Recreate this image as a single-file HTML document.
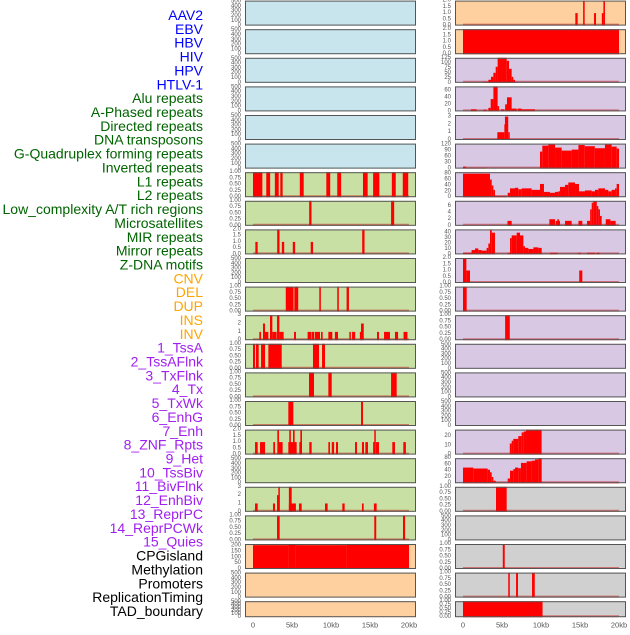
<!DOCTYPE html>
<html><head><meta charset="utf-8">
<style>
html,body{margin:0;padding:0;background:#fff;}
body{width:630px;height:630px;overflow:hidden;font-family:"Liberation Sans",sans-serif;}
</style></head>
<body>
<svg id="chart" width="630" height="630" viewBox="0 0 630 630" xmlns="http://www.w3.org/2000/svg">
<g id="labels"></g>
<g id="panels"></g>
<g id="xaxes"></g>
</svg>
<script>
// ---- track labels ----
const labelNames = ["AAV2","EBV","HBV","HIV","HPV","HTLV-1","Alu repeats","A-Phased repeats","Directed repeats","DNA transposons","G-Quadruplex forming repeats","Inverted repeats","L1 repeats","L2 repeats","Low_complexity A/T rich regions","Microsatellites","MIR repeats","Mirror repeats","Z-DNA motifs","CNV","DEL","DUP","INS","INV","1_TssA","2_TssAFlnk","3_TxFlnk","4_Tx","5_TxWk","6_EnhG","7_Enh","8_ZNF_Rpts","9_Het","10_TssBiv","11_BivFlnk","12_EnhBiv","13_ReprPC","14_ReprPCWk","15_Quies","CPGisland","Methylation","Promoters","ReplicationTiming","TAD_boundary"];
const labelColors = ["#0000ff","#006400","#ffa500","#a020f0","#000000"];
const labelGroups = [6,13,5,15,5];

// ---- x axis ----
const xTickKb = [0,5,10,15,20];
const xTickLabels = ["0","5kb","10kb","15kb","20kb"];

// ---- tick sets ----
const T01 = [0,0.25,0.5,0.75,1];
const T02 = [0,0.5,1,1.5,2];
const T500 = [0,100,200,300,400,500];
const T03 = [0,1,2,3];

// ---- left column data [startKb,endKb,value] ----
const L_L1 = [[0,1.2,1],[1.7,2.2,1],[2.8,3.3,1],[3.5,3.8,1],[6.0,6.5,1],[9.4,9.9,1],[10.8,11.3,1],[14.1,14.7,1],[15.4,16.2,1],[17.8,18.3,1],[19.2,19.9,1]];
const L_L2 = [[7.2,7.5,1],[17.7,18.1,1]];
const L_LowC = [[0.3,0.6,1],[3.1,3.4,2],[3.7,4.0,1],[5.1,5.4,1],[7.4,7.7,1],[14.0,14.3,2]];
const L_MIR = [[4.2,5.2,1],[5.3,5.8,1],[8.5,8.7,1],[10.8,11.0,1],[12.0,12.3,1]];
const L_Mirror = [[0.81,1.03,1],[1.28,1.54,2],[1.54,1.97,1],[2.18,2.48,3],[2.48,3.03,1],[3.08,3.38,3],[3.38,3.93,1],[5.26,5.51,1],[7.0,7.5,1],[7.56,7.86,1],[7.95,8.59,1],[8.72,8.93,1],[9.66,10.17,1],[10.5,10.9,1],[12.35,12.5,1],[12.7,13.1,1],[13.7,13.85,1],[13.85,14.2,2],[15.9,16.15,1],[16.8,17.56,1],[18.2,18.6,1],[19.3,19.8,1]];
const L_DEL = [[0,0.26,1],[0.38,0.73,1],[1.03,1.54,1],[1.97,3.68,1],[7.69,8.46,1],[8.85,9.23,1]];
const L_DUP = [[7.18,7.82,1],[9.66,10.09,1],[17.7,18.42,1]];
const L_INS = [[4.53,5.17,1],[13.85,14.1,1]];
const L_INV = [[0.26,0.6,1],[0.9,1.54,1],[2.6,2.82,1],[3.12,3.33,2],[3.33,3.8,1],[4.53,5.6,1],[4.65,4.85,2],[5.13,5.34,2],[5.94,6.28,1],[6.07,6.28,2],[7.22,7.52,1],[9.66,9.87,1],[10.1,10.4,1],[10.64,10.9,1],[13.08,13.33,1],[13.97,14.23,1],[14.4,14.74,1],[15.4,15.55,1],[15.55,15.73,2],[15.77,16.15,1],[17.86,18.2,1],[19.27,19.6,1]];
const L_TxFlnk = [[0.26,0.6,1],[2.56,2.82,1],[3.08,3.25,2],[3.25,3.42,3],[4.6,5.5,1],[4.6,4.96,3],[5.9,6.24,1],[9.23,9.57,1],[11.45,11.75,1],[13.97,14.19,1],[15.5,15.85,1]];
const L_Tx = [[3.08,3.42,1],[15.55,15.8,1],[19.23,19.5,1]];
const L_TxWk = [[0,4.5,205],[4.5,5.5,212],[5.5,12,205],[12,20,208]];

// ---- right column data ----
const R_AAV2 = [[14.4,14.7,1],[15.4,15.6,2],[16.8,17.05,1],[17.8,18.0,1],[18.0,18.2,2]];
const R_EBV = [[0,20,2]];
const R_HIV = [[2.6,3.25,5],[3.25,3.59,15],[3.59,3.89,30],[3.89,4.19,50],[4.19,4.44,80],[4.44,5.6,125],[5.6,5.9,110],[5.9,6.24,70],[6.24,6.45,30],[6.45,6.67,15],[6.67,6.88,5]];
const R_HPV = [[1.03,1.75,6],[2.6,3.03,5],[3.25,3.55,10],[3.55,3.9,35],[3.9,4.44,71],[4.44,4.6,15],[4.87,5.3,6],[5.4,5.64,20],[5.64,6.24,40],[6.24,6.88,8],[7.0,7.5,8],[7.5,9.23,6]];
const R_HTLV = [[4.4,5.3,1],[5.3,5.5,2],[5.38,5.8,3],[5.8,5.98,1]];
const R_Alu = [[0,0.4,10],[0.4,3.03,5],[9.87,10.17,85],[10.17,10.94,115],[10.94,11.8,120],[11.8,12.65,105],[12.65,13.93,90],[13.93,14.8,95],[14.8,15.6,118],[15.6,16.9,112],[16.9,18.2,102],[18.2,19.06,120],[19.06,19.7,110],[19.7,20,100]];
const R_Aph = [[0,3.46,80],[3.46,3.68,60],[3.68,3.89,40],[3.89,4.1,25],[4.1,5.6,5],[5.73,6.03,15],[6.03,6.67,30],[6.67,7.09,32],[7.09,7.52,27],[7.52,8.8,30],[8.8,9.87,25],[9.87,10.38,45],[10.38,11.15,18],[11.15,11.8,15],[11.8,12.22,18],[12.22,12.44,20],[12.44,13.08,35],[13.08,13.5,42],[13.5,14.36,50],[14.36,14.87,45],[14.87,15.64,20],[15.64,16.5,23],[16.5,16.92,20],[16.92,17.35,25],[17.35,18.2,30],[18.2,18.63,25],[18.63,19.06,20],[19.06,19.49,25],[19.49,19.7,30],[19.7,20,45]];
const R_Dir = [[5.7,6.24,1.5],[11.07,11.8,2],[11.88,12.44,1.5],[12.1,12.3,2],[13.08,13.93,1.5],[14.8,15.3,1.5],[15.9,16.3,1.5],[16.3,16.5,5],[16.5,16.7,7],[16.7,17.15,7.5],[17.15,17.35,6],[17.35,17.56,5],[17.56,17.78,3],[18.3,18.9,2],[18.9,19.57,1.5]];
const R_DNAt = [[0,1.1,3],[1.1,1.54,8],[1.54,1.97,11],[1.97,2.4,8],[2.4,3.03,7],[3.03,3.25,12],[3.25,3.46,20],[3.46,3.68,45],[3.68,4.1,40],[5.73,6.03,3],[6.03,6.24,30],[6.24,6.88,35],[6.88,7.31,40],[7.31,7.74,35],[7.74,7.95,15],[7.95,8.38,12],[8.38,9.02,10],[9.02,9.66,13],[9.66,10.09,12],[11.15,12.14,3],[14.8,15.1,3],[15.9,16.92,3],[17.1,17.52,3]];
const R_GQ = [[0,0.43,2],[0.43,0.9,1],[14.9,15.3,1]];
const R_Inv = [[0,0.47,1]];
const R_L1 = [[5.4,6.0,1]];
const R_MIR = [[6.0,6.24,12],[6.24,6.45,15],[6.45,7.09,17],[7.09,7.52,20],[7.52,7.78,24],[7.78,8.08,25],[8.08,10.08,27]];
const R_Mirror = [[0,1.32,50],[1.32,3.16,47],[3.16,3.46,43],[3.46,3.68,35],[3.68,3.89,20],[3.89,4.19,8],[4.19,5.73,1],[5.73,6.03,15],[6.03,6.45,40],[6.45,6.67,45],[6.67,7.09,50],[7.09,7.43,48],[7.43,8.16,65],[8.16,8.8,70],[8.8,9.23,72],[9.23,9.66,76],[9.66,10.09,80],[10.09,20,2]];
const R_ZDNA = [[4.23,5.6,1]];
const R_CPG = [[5.1,5.35,1]];
const R_Meth = [[5.8,6.0,1],[6.8,7.05,1],[8.85,9.2,1]];
const R_Prom = [[0,10.2,1]];

// ---- colours ----
const BLUE="#c8e4ec", ORANGE="#fed0a0", PURPLE="#d8c8e4", GREEN="#c8e0a4", GREY="#d0d0d0";

const leftPanels = [
 [BLUE,520,T500,[],0],[BLUE,520,T500,[],0],[BLUE,520,T500,[],0],[BLUE,520,T500,[],0],[BLUE,520,T500,[],0],[BLUE,520,T500,[],0],
 [GREEN,1,T01,L_L1,2],[GREEN,1,T01,L_L2,2],[GREEN,2,T02,L_LowC,1],[GREEN,520,T500,[],0],[GREEN,1,T01,L_MIR,2],[GREEN,3,T03,L_Mirror,0],
 [GREEN,1,T01,L_DEL,2],[GREEN,1,T01,L_DUP,2],[GREEN,1,T01,L_INS,2],[GREEN,2,T02,L_INV,1],[GREEN,520,T500,[],0],[GREEN,3,T03,L_TxFlnk,0],[GREEN,1,T01,L_Tx,2],
 [ORANGE,215,[0,50,100,150,200],L_TxWk,0],[ORANGE,520,T500,[],0],[ORANGE,520,T500,[],0]
];
const rightPanels = [
 [ORANGE,2,T02,R_AAV2,1],[ORANGE,2,T02,R_EBV,1],[PURPLE,125,[0,25,50,75,100,125],R_HIV,0],[PURPLE,71,[0,20,40,60],R_HPV,0],[PURPLE,3.2,T03,R_HTLV,0],
 [PURPLE,125,[0,30,60,90,120],R_Alu,0],[PURPLE,85,[0,20,40,60,80],R_Aph,0],[PURPLE,7.6,[0,2,4,6],R_Dir,0],[PURPLE,46,[0,10,20,30,40],R_DNAt,0],
 [PURPLE,2,T02,R_GQ,1],[PURPLE,1,T01,R_Inv,2],[PURPLE,1,T01,R_L1,2],[PURPLE,520,T500,[],0],[PURPLE,520,T500,[],0],[PURPLE,520,T500,[],0],
 [PURPLE,27,[0,10,20],R_MIR,0],[PURPLE,80,[0,20,40,60,80],R_Mirror,0],[GREY,1,T01,R_ZDNA,2],[GREY,520,T500,[],0],
 [GREY,1,T01,R_CPG,2],[GREY,1,T01,R_Meth,2],[GREY,1,T01,R_Prom,2]
];

const NS="http://www.w3.org/2000/svg";
function mk(tag, attrs, parent){const e=document.createElementNS(NS,tag);for(const k in attrs)e.setAttribute(k,attrs[k]);parent.appendChild(e);return e;}

const gl=document.getElementById('labels');
let li=0;
labelGroups.forEach((n,gi)=>{for(let j=0;j<n;j++){
  const t=mk('text',{x:203,y:15+li*13.86,'text-anchor':'end','dominant-baseline':'central','font-size':'14',fill:labelColors[gi]},gl);
  t.textContent=labelNames[li];
  
  
  li++;
}});

const gp=document.getElementById('panels');
function drawColumn(panels, px0, kb0x, side){
  const pw=171;
  const xs=kb=>kb0x+kb*7.8;
  panels.forEach((p,i)=>{
    const top=0.6+28.6*i, h=(i===21)?16:25;
    const [bg,ymax,ticks,data,dec]=p;
    const g=mk('g',{},gp);
    
    
    const ys=v=>top+h-(v/ymax)*h;
    mk('rect',{x:px0,y:top,width:pw,height:h,fill:bg},g);
    if(data.length){
      mk('line',{x1:xs(0),x2:xs(20),y1:top+h-1,y2:top+h-1,stroke:'rgba(200,0,0,0.45)','stroke-width':2},g);
    }
    data.forEach(d=>{
      const y=ys(Math.min(d[2],ymax));
      const r=mk('rect',{x:xs(d[0]),y:y,width:Math.max(1.5,xs(d[1])-xs(d[0])),height:top+h-y,fill:'#ff0000'},g);
      
      
    });
    mk('rect',{x:px0+0.5,y:top+0.5,width:pw-1,height:h-1,fill:'none',stroke:'#555','stroke-width':1},g);
    ticks.forEach(v=>{
      const t=mk('text',{x:px0-4,y:ys(v),'text-anchor':'end','dominant-baseline':'central','font-size':'6',fill:'#555'},g);
      t.textContent=v.toFixed(dec);
      
      
    });
  });
  const gx=document.getElementById('xaxes');
  xTickKb.forEach((k,j)=>{
    const t=mk('text',{x:xs(k),y:625,'text-anchor':'middle','dominant-baseline':'central','font-size':'7.5',fill:'#555'},gx);
    t.textContent=xTickLabels[j];
    
    
  });
}
drawColumn(leftPanels,245,253,'left');
drawColumn(rightPanels,455,463,'right');
</script>
</body></html>
